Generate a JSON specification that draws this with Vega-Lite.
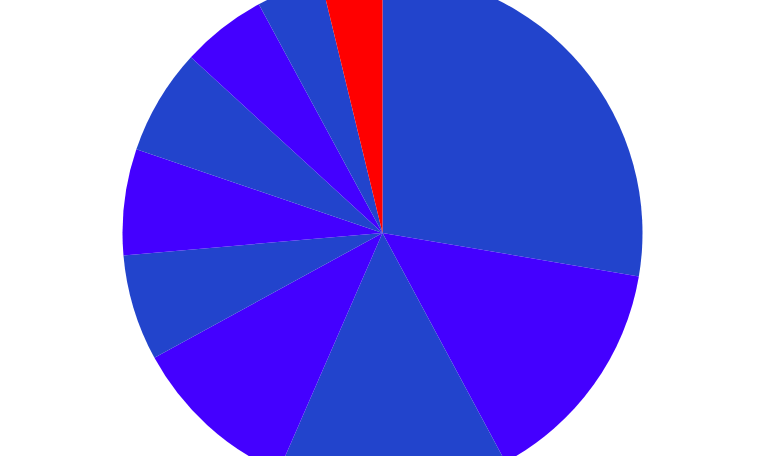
{
  "$schema": "https://vega.github.io/schema/vega-lite/v6.json",
  "description": "Pie chart, ten slices, clockwise from twelve o'clock",
  "autosize": {"type": "none"},
  "width": 765,
  "height": 446,
  "padding": {"left": 0, "right": 15, "top": 10, "bottom": 0},
  "background": "white",
  "data": {
    "values": [
      {"slice": "A", "share": 27.7},
      {"slice": "B", "share": 14.5},
      {"slice": "C", "share": 14.4},
      {"slice": "D", "share": 10.5},
      {"slice": "E", "share": 6.6},
      {"slice": "F", "share": 6.6},
      {"slice": "G", "share": 6.6},
      {"slice": "H", "share": 5.3},
      {"slice": "I", "share": 4.1},
      {"slice": "J", "share": 3.8}
    ]
  },
  "mark": {"type": "arc", "radius": 260, "stroke": null},
  "encoding": {
    "theta": {"field": "share", "type": "quantitative", "stack": true},
    "order": {"field": "slice", "type": "ordinal"},
    "color": {
      "field": "slice",
      "type": "nominal",
      "legend": null,
      "scale": {
        "domain": ["A", "B", "C", "D", "E", "F", "G", "H", "I", "J"],
        "range": ["#2244cc", "#4400ff", "#2244cc", "#4400ff", "#2244cc", "#4400ff", "#2244cc", "#4400ff", "#2244cc", "#ff0000"]
      }
    }
  },
  "config": {"view": {"stroke": null}}
}
